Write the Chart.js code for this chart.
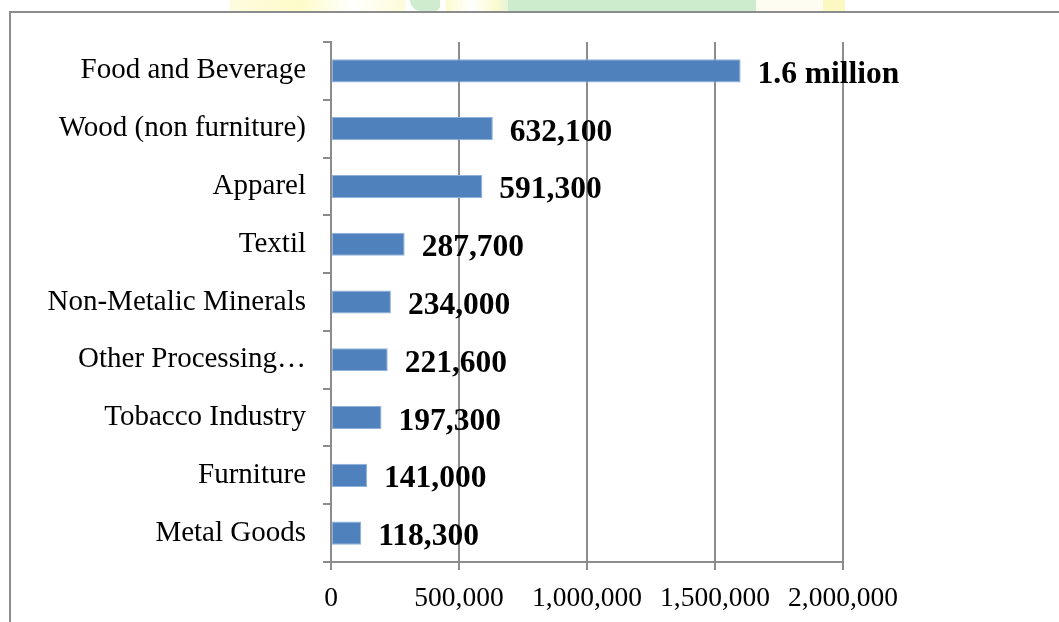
<!DOCTYPE html>
<html>
<head>
<meta charset="utf-8">
<title>Employment by industry</title>
<script src="https://cdn.jsdelivr.net/npm/chart.js@4.4.1/dist/chart.umd.min.js"></script>
<style>
  html, body { margin: 0; padding: 0; background: #fff; }
  body { width: 1059px; height: 622px; position: relative; overflow: hidden; }
  #chart { position: absolute; left: 0; top: 0; }
  /* faint letterhead strip above the frame */
  .strip { position: absolute; top: 0; height: 11px; }
  .s1 { left: 230px; width: 175px; background: linear-gradient(90deg, #fffbe0, #fdfcc8 40%, #fff 70%, #fefbd8); }
  .s2 { left: 410px; width: 30px; background: #cfeccf; border-radius: 0 0 6px 14px; }
  .s3 { left: 446px; width: 62px; background: linear-gradient(90deg, #fdfbd0, #fff 40%, #fdfbd0 80%, #e6f4d8); }
  .s4 { left: 508px; width: 248px; background: #cdebcd; }
  .s5 { left: 756px; width: 67px; background: #fefdf2; }
  .s6 { left: 823px; width: 22px; background: #fcf8c2; }
  /* chart frame: only top and left edges fall inside the window */
  .frame {
    position: absolute; left: 9px; top: 11px; width: 1100px; height: 700px;
    border-left: 2px solid #8c8c8c; border-top: 2px solid #8c8c8c;
  }
</style>
</head>
<body>
<div class="strip s1"></div><div class="strip s2"></div><div class="strip s3"></div>
<div class="strip s4"></div><div class="strip s5"></div><div class="strip s6"></div>
<div class="frame"></div>
<canvas id="chart" width="1059" height="622"></canvas>
<script>
'use strict';

/* ── Data ─────────────────────────────────────────────────── */
const industries = [
  'Food and Beverage',
  'Wood (non furniture)',
  'Apparel',
  'Textil',
  'Non-Metalic Minerals',
  'Other Processing…',
  'Tobacco Industry',
  'Furniture',
  'Metal Goods'
];
const workers = [1600000, 632100, 591300, 287700, 234000, 221600, 197300, 141000, 118300];
const valueLabels = ['1.6 million', '632,100', '591,300', '287,700', '234,000', '221,600', '197,300', '141,000', '118,300'];
const xTicks = [0, 500000, 1000000, 1500000, 2000000];

/* ── Styles ───────────────────────────────────────────────── */
const SERIF = '"Liberation Serif", "Times New Roman", serif';
const GREY  = '#8c8c8c';
const BLUE  = '#4f81bd';

// Bold value text just past the end of each bar.
const valueLabelPlugin = {
  id: 'valueLabels',
  afterDatasetsDraw(ch) {
    const meta = ch.getDatasetMeta(0);
    const ctx = ch.ctx;
    ctx.save();
    ctx.font = `bold 31.5px ${SERIF}`;
    ctx.fillStyle = '#000';
    ctx.textAlign = 'left';
    ctx.textBaseline = 'alphabetic';
    meta.data.forEach((bar, i) => {
      ctx.fillText(valueLabels[i], bar.x + 17, bar.y + 12);
    });
    ctx.restore();
  }
};

new Chart(document.getElementById('chart').getContext('2d'), {
  type: 'bar',
  data: {
    labels: industries,
    datasets: [{
      data: workers,
      backgroundColor: BLUE,
      borderColor: '#8fb1db',
      borderWidth: 1,
      borderSkipped: false,
      categoryPercentage: 1,
      barPercentage: 0.4
    }]
  },
  plugins: [valueLabelPlugin],
  options: {
    indexAxis: 'y',
    responsive: false,
    animation: false,
    layout: { padding: { top: 42, right: 216, bottom: 0, left: 0 } },
    plugins: {
      legend: { display: false },
      tooltip: { enabled: false }
    },
    scales: {
      y: {
        afterFit: s => { s.width = 331; },
        grid: { drawOnChartArea: false, drawTicks: true, tickLength: 8, color: GREY, lineWidth: 2, offset: true },
        border: { display: true, color: GREY, width: 2 },
        ticks: { color: '#000', padding: 17, autoSkip: false, font: { family: SERIF, size: 29 } }
      },
      x: {
        min: 0,
        max: 2000000,
        afterFit: s => { s.height = 60; },
        afterBuildTicks: s => { s.ticks = xTicks.map(v => ({ value: v })); },
        grid: { color: GREY, lineWidth: 2, tickLength: 8, drawTicks: true },
        border: { display: true, color: GREY, width: 2 },
        ticks: {
          color: '#000',
          padding: 12,
          maxRotation: 0,
          font: { family: SERIF, size: 27.5 },
          callback: v => v.toLocaleString('en-US')
        }
      }
    }
  }
});
</script>
</body>
</html>
